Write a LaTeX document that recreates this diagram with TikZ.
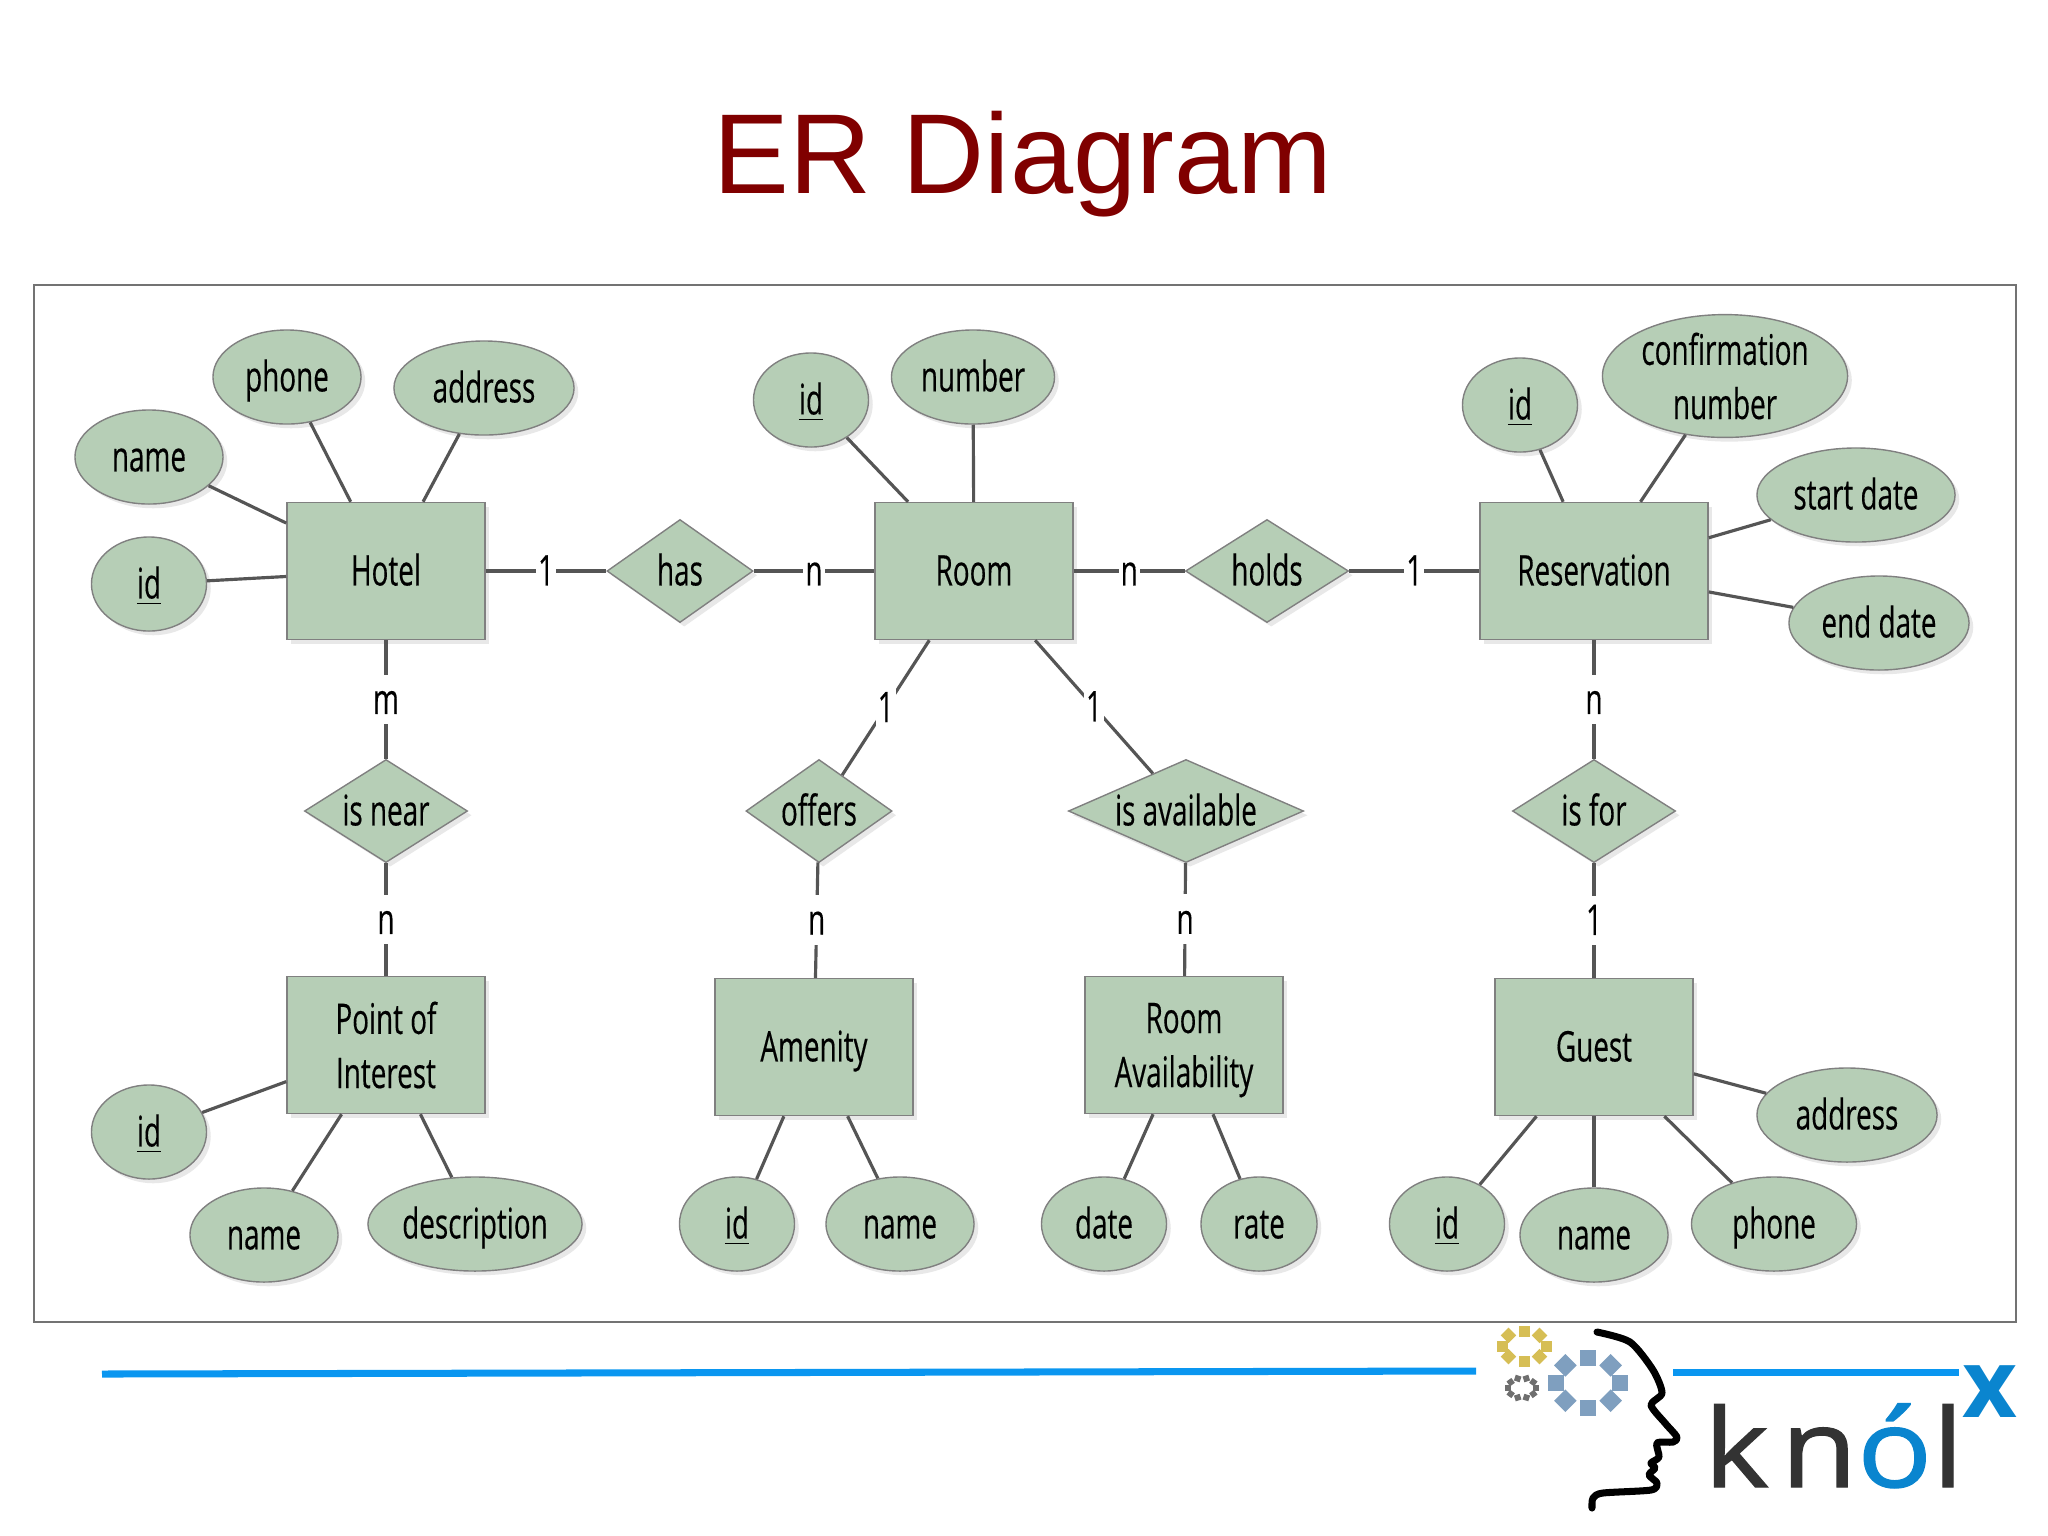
\documentclass[tikz,border=0pt]{standalone}
\usepackage{fontspec}
\usepackage{tikz}
\usetikzlibrary{shapes.geometric,shadows}
\setmainfont{Liberation Sans}
\newfontfamily\erfont[FakeStretch=0.66,FakeBold=0.3]{Open Sans}
\newfontfamily\logofont[LetterSpace=11,FakeBold=1.2,FakeStretch=1.14]{Open Sans}
\newfontfamily\logoxfont{Open Sans}
\definecolor{titlered}{HTML}{800000}
\definecolor{ergreen}{HTML}{B6CEB6}
\definecolor{erline}{HTML}{555555}
\definecolor{rulecol}{HTML}{0A96F0}
\definecolor{knolblue}{HTML}{0A85CF}
\definecolor{knolgrey}{HTML}{333333}
\definecolor{geargold}{HTML}{D6BE55}
\definecolor{gearblue}{HTML}{7F9FBF}
\definecolor{geargrey}{HTML}{6F6F6F}
\newcommand{\rel}[1]{\makebox[0pt]{#1}}
\tikzset{
  entity/.style={draw=gray,fill=ergreen,rectangle,minimum width=1.98cm,minimum height=1.37cm,inner sep=0pt,align=center,erlabel,erglow},
  relation/.style={draw=gray,fill=ergreen,diamond,minimum height=1.03cm,inner sep=0pt,erlabel,erglow},
  attrib/.style={draw=gray,fill=ergreen,ellipse,minimum height=0.94cm,inner sep=0pt,align=center,erlabel,erglow},
  card/.style={fill=white,inner xsep=0.6pt,inner ysep=1pt,erlabel},
  link/.style={draw=erline,line width=0.9pt},
  twolines/.style={text height=,text depth=},
  erlabel/.style={font=\erfont\fontsize{12}{15.4}\selectfont,text=black,text height=10.2pt,text depth=2pt},
  erglow/.style={drop shadow={shadow xshift=1.2pt,shadow yshift=-1.2pt,opacity=.18}}
}
\begin{document}
\begin{tikzpicture}[x=0.01cm,y=-0.01cm]
\useasboundingbox (0,0) rectangle (2048,1535);

\node[font=\fontsize{32.3}{36}\selectfont,text=titlered] (title) at (1023,164) {ER Diagram};
\draw[gray!90!black,line width=0.6pt] (34,285) rectangle (2016,1322);

\node[entity] (hotel) at (386,571) {Hotel};
\node[entity] (room) at (974,571) {Room};
\node[entity,minimum width=2.28cm] (reservation) at (1594,571) {Reservation};
\node[entity,twolines] (poi) at (386,1045) {Point of\\Interest};
\node[entity] (amenity) at (814,1047) {Amenity};
\node[entity,twolines] (roomavail) at (1184,1045) {Room\\\raisebox{0pt}[\height][0pt]{Availability}};
\node[entity] (guest) at (1594,1047) {Guest};

\node[relation,minimum width=1.46cm] (has) at (680,571) {\rel{has}};
\node[relation,minimum width=1.63cm] (holds) at (1267,571) {\rel{holds}};
\node[relation,minimum width=1.63cm] (isnear) at (386,811) {\rel{is near}};
\node[relation,minimum width=1.46cm] (offers) at (819,811) {\rel{offers}};
\node[relation,minimum width=2.35cm] (isavail) at (1186,811) {\rel{is available}};
\node[relation,minimum width=1.63cm] (isfor) at (1594,811) {\rel{is for}};

\node[attrib,minimum width=1.48cm] (hotelphone) at (287,377) {phone};
\node[attrib,minimum width=1.80cm] (hoteladdress) at (484,388) {address};
\node[attrib,minimum width=1.48cm] (hotelname) at (149,457) {name};
\node[attrib,minimum width=1.15cm] (hotelid) at (149,584) {\underline{id}};
\node[attrib,minimum width=1.15cm] (roomid) at (811,400) {\underline{id}};
\node[attrib,minimum width=1.63cm] (roomnumber) at (973,377) {number};
\node[attrib,minimum width=1.15cm] (resid) at (1520,405) {\underline{id}};
\node[attrib,twolines,minimum width=2.45cm,minimum height=1.21cm] (resconfirm) at (1725,376) {confirmation\\number};
\node[attrib,minimum width=1.98cm] (resstart) at (1856,495) {start date};
\node[attrib,minimum width=1.80cm] (resend) at (1879,623) {end date};
\node[attrib,minimum width=1.15cm] (poiid) at (149,1132) {\underline{id}};
\node[attrib,minimum width=1.48cm] (poiname) at (264,1235) {name};
\node[attrib,minimum width=2.14cm] (poidesc) at (475,1224) {description};
\node[attrib,minimum width=1.15cm] (amenityid) at (737,1224) {\underline{id}};
\node[attrib,minimum width=1.48cm] (amenityname) at (900,1224) {name};
\node[attrib,minimum width=1.25cm] (availdate) at (1104,1224) {date};
\node[attrib,minimum width=1.16cm] (availrate) at (1259,1224) {rate};
\node[attrib,minimum width=1.15cm] (guestid) at (1447,1224) {\underline{id}};
\node[attrib,minimum width=1.48cm] (guestname) at (1594,1235) {name};
\node[attrib,minimum width=1.65cm] (guestphone) at (1774,1224) {phone};
\node[attrib,minimum width=1.80cm] (guestaddress) at (1847,1115) {address};

\draw[link] (hotelphone) -- (hotel);
\draw[link] (hoteladdress) -- (hotel);
\draw[link] (hotelname) -- (hotel);
\draw[link] (hotelid) -- (hotel);
\draw[link] (roomid) -- (room);
\draw[link] (roomnumber) -- (room);
\draw[link] (resid) -- (reservation);
\draw[link] (resconfirm) -- (reservation);
\draw[link] (resstart) -- (reservation);
\draw[link] (resend) -- (reservation);
\draw[link] (poiid) -- (poi);
\draw[link] (poiname) -- (poi);
\draw[link] (poidesc) -- (poi);
\draw[link] (amenityid) -- (amenity);
\draw[link] (amenityname) -- (amenity);
\draw[link] (availdate) -- (roomavail);
\draw[link] (availrate) -- (roomavail);
\draw[link] (guestid) -- (guest);
\draw[link] (guestname) -- (guest);
\draw[link] (guestphone) -- (guest);
\draw[link] (guestaddress) -- (guest);

\draw[link] (hotel) -- node[card] {1} (has);
\draw[link] (has) -- node[card] {n} (room);
\draw[link] (room) -- node[card] {n} (holds);
\draw[link] (holds) -- node[card] {1} (reservation);
\draw[link] (hotel) -- node[card] {m} (isnear);
\draw[link] (isnear) -- node[card] {n} (poi);
\draw[link] (room) -- node[card] {1} (offers);
\draw[link] (offers) -- node[card] {n} (amenity);
\draw[link] (room) -- node[card] {1} (isavail);
\draw[link] (isavail) -- node[card] {n} (roomavail);
\draw[link] (reservation) -- node[card] {n} (isfor);
\draw[link] (isfor) -- node[card] {1} (guest);

\draw[rulecol,line width=2pt] (102,1374) -- (1476,1371);
\draw[rulecol,line width=2pt] (1673,1372) -- (1959,1372);

\foreach \a in {0,45,...,315}
  \fill[geargold,shift={({1524+22*cos(\a)},{1346+15*sin(\a)})},rotate=\a] (-5.5,-5.5) rectangle (5.5,5.5);
\foreach \a in {0,45,...,315}
  \fill[gearblue,shift={({1588+32*cos(\a)},{1383+25*sin(\a)})},rotate=\a] (-8,-8) rectangle (8,8);
\foreach \a in {0,36,...,324}
  \fill[geargrey,shift={({1522+14*cos(\a)},{1388+10*sin(\a)})},rotate=\a] (-3,-3) rectangle (3,3);

\draw[black,line width=2pt,line cap=round,line join=round] plot[smooth,tension=.45] coordinates {(1597,1332) (1630,1342) (1653,1370) (1662,1393) (1651,1405) (1665,1423) (1677,1437) (1673,1442) (1657,1443) (1659,1457) (1651,1463) (1655,1468) (1649,1475) (1657,1483) (1651,1490) (1603,1493) (1593,1498) (1592,1508)};

\node[anchor=base west,inner sep=0pt,font=\logofont\fontsize{31}{34}\selectfont,text=knolgrey] (knol) at (1703,1487) {kn\textcolor{knolblue}{ó}l};
\node[anchor=base,inner sep=0pt,font=\logoxfont\bfseries\fontsize{27}{30}\selectfont,text=knolblue] (knolx) at (1990,1417) {x};
\end{tikzpicture}
\end{document}
